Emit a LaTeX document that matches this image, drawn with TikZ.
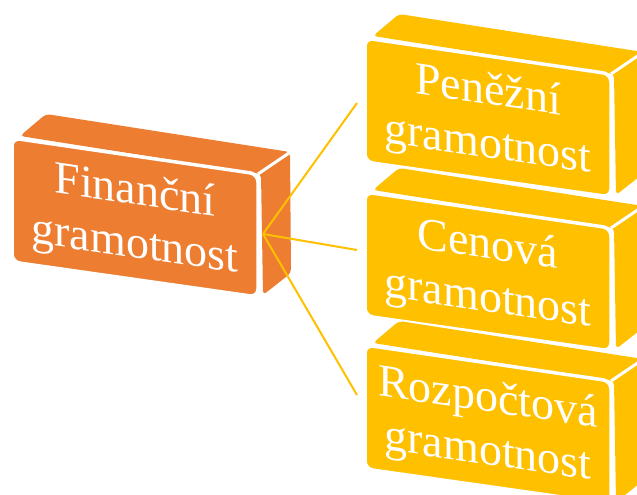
\documentclass[tikz,border=0pt]{standalone}
\usepackage{fontspec}
\setmainfont{Liberation Serif}
\definecolor{forange}{HTML}{ED7D31}
\definecolor{fyellow}{HTML}{FFC000}
\tikzset{
  brickfront/.style={fill=#1, draw=white, line width=3.5pt, rounded corners=8pt},
  bricksep/.style={draw=white, line width=3pt},
  bricktext/.style={text=white, font=\fontsize{46}{53}\selectfont, align=center, yslant=-0.145, inner sep=0pt},
  link/.style={draw=fyellow, line width=2pt},
}
\newcommand\brick[5]{%
  \begin{scope}[shift={(#1,#2)}]
    \fill[fill=#3, rounded corners=4pt] (8,-2) -- (34,-24) -- (278,14) -- (279,135) -- (251,157) -- (249,36) -- cycle;
    \draw[bricksep] (246,36) -- (277,15);
    \path[brickfront=#3] (0,0) -- (246,36) -- (246,159) -- (0,124) -- cycle;
    \node[bricktext] (#4) at (123,82) {#5};
  \end{scope}}
\begin{document}
\begin{tikzpicture}[x=1pt,y=-1pt]
  \useasboundingbox (0,0) rectangle (637,495);
  \clip (0,0) rectangle (637,495);
  \brick{12}{138}{forange}{fin}{Finanční\\gramotnost}
  \brick{365}{38}{fyellow}{pen}{Peněžní\\gramotnost}
  \brick{365}{192}{fyellow}{cen}{Cenová\\gramotnost}
  \brick{365}{345}{fyellow}{roz}{Rozpočtová\\gramotnost}
  \coordinate (hub) at (263,234);
  \coordinate (t1) at (357,103);
  \coordinate (t2) at (357,250);
  \coordinate (t3) at (357,395);
  \draw[link] (hub) -- (t1);
  \draw[link] (hub) -- (t2);
  \draw[link] (hub) -- (t3);
\end{tikzpicture}
\end{document}
